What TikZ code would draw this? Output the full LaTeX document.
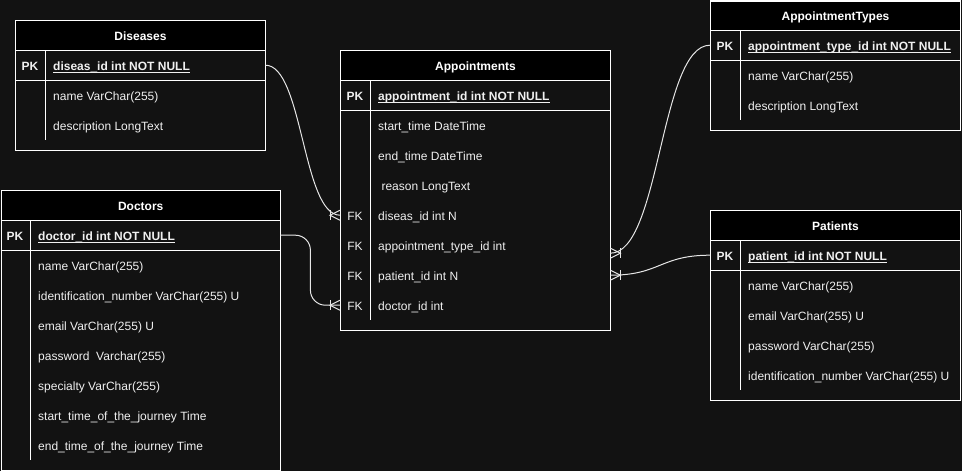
\documentclass[tikz,border=0pt]{standalone}
\usepackage{fontspec}
\setmainfont{Liberation Sans}
\usetikzlibrary{calc}
\definecolor{bg}{HTML}{121212}
\definecolor{fg}{HTML}{F0F0F0}
\definecolor{cn}{HTML}{E6E6E6}
\newcommand{\uln}[1]{\setbox0=\hbox{#1}\rlap{\rule[-2pt]{\wd0}{0.9pt}}\box0}
\newcommand{\erfoot}[2]{%
  \draw[conn] ($(#1)+(#2*10,-5)$) -- ($(#1)+(#2*10,5)$);
  \draw[conn] ($(#1)+(0,-5)$) -- ($(#1)+(#2*10,0)$) -- ($(#1)+(0,5)$);
}
\begin{document}
\begin{tikzpicture}[x=1pt,y=-1pt,
  tbl/.style={draw=white, line width=1pt, fill=bg, anchor=north west, inner sep=0pt},
  hdr/.style={draw=white, line width=1pt, fill=black, anchor=north west, inner sep=0pt,
    minimum height=30pt, text height=10pt, text depth=0pt,
    font=\bfseries\fontsize{12}{14}\selectfont, text=white},
  row/.style={anchor=north west, inner sep=0pt, minimum height=30pt},
  pkl/.style={anchor=base, inner sep=0pt, font=\bfseries\fontsize{12}{14}\selectfont, text=fg},
  fkl/.style={anchor=base, inner sep=0pt, font=\fontsize{12}{14}\selectfont, text=fg},
  fld/.style={anchor=base west, inner sep=0pt, font=\fontsize{12}{14}\selectfont, text=fg},
  pkf/.style={anchor=base west, inner sep=0pt, font=\bfseries\fontsize{12}{14}\selectfont, text=fg},
  sep/.style={draw=white, line width=1pt},
  conn/.style={draw=cn, line width=1pt},
]
\useasboundingbox (0,0) rectangle (962,471);
\fill[bg] (0,0) rectangle (962,471);

% ---------------- Diseases
\node[tbl, minimum width=250pt, minimum height=130pt] (dis) at (15,20) {};
\node[hdr, minimum width=250pt] (dis-h) at (15,20) {Diseases};
\node[row, minimum width=250pt] (dis-pk) at (15,50) {};
\draw[sep] (dis-pk.south west) -- (dis-pk.south east);
\draw[sep] (45,50) -- (45,140);
\node[pkl] (dis-pkl) at (30,70.5) {PK};
\node[pkf] (dis-pkf) at (53,70.5) {\uln{diseas\_id int NOT NULL}};
\foreach \t [count=\i] in {name VarChar(255), description LongText}
  \node[fld] (dis-f\i) at (53,{70.5+30*\i}) {\t};

% ---------------- Doctors
\node[tbl, minimum width=279.5pt, minimum height=280pt] (doc) at (0.5,190) {};
\node[hdr, minimum width=279.5pt] (doc-h) at (0.5,190) {Doctors};
\node[row, minimum width=279.5pt] (doc-pk) at (0.5,220) {};
\draw[sep] (doc-pk.south west) -- (doc-pk.south east);
\draw[sep] (30,220) -- (30,460);
\node[pkl] (doc-pkl) at (15,240.5) {PK};
\node[pkf] (doc-pkf) at (38,240.5) {\uln{doctor\_id int NOT NULL}};
\foreach \t [count=\i] in {name VarChar(255), identification\_number VarChar(255) U,
  email VarChar(255) U, password\ \ Varchar(255), specialty VarChar(255),
  start\_time\_of\_the\_journey Time, end\_time\_of\_the\_journey Time}
  \node[fld] (doc-f\i) at (38,{240.5+30*\i}) {\t};

% ---------------- Appointments
\node[tbl, minimum width=270pt, minimum height=280pt] (ap) at (340,50) {};
\node[hdr, minimum width=270pt] (ap-h) at (340,50) {Appointments};
\node[row, minimum width=270pt] (ap-pk) at (340,80) {};
\draw[sep] (ap-pk.south west) -- (ap-pk.south east);
\draw[sep] (370,80) -- (370,320);
\node[pkl] (ap-pkl) at (355,100.5) {PK};
\node[pkf] (ap-pkf) at (378,100.5) {\uln{appointment\_id int NOT NULL}};
\foreach \t [count=\i] in {start\_time DateTime, end\_time DateTime, \ reason LongText,
  diseas\_id int N, appointment\_type\_id int, patient\_id int N, doctor\_id int}
  {\node[row, minimum width=270pt] (ap-r\i) at (340,{80+30*\i}) {};
   \node[fld] (ap-f\i) at (378,{100.5+30*\i}) {\t};}
\foreach \i in {4,...,7}
  \node[fkl] (ap-fk\i) at (355,{100.5+30*\i}) {FK};

% ---------------- AppointmentTypes
\node[tbl, minimum width=250pt, minimum height=129.5pt] (typ) at (710,0.5) {};
\node[hdr, minimum width=250pt, minimum height=29.5pt] (typ-h) at (710,0.5) {AppointmentTypes};
\node[row, minimum width=250pt] (typ-pk) at (710,30) {};
\draw[sep] (typ-pk.south west) -- (typ-pk.south east);
\draw[sep] (740,30) -- (740,120);
\node[pkl] (typ-pkl) at (725,50.5) {PK};
\node[pkf] (typ-pkf) at (748,50.5) {\uln{appointment\_type\_id int NOT NULL}};
\foreach \t [count=\i] in {name VarChar(255), description LongText}
  \node[fld] (typ-f\i) at (748,{50.5+30*\i}) {\t};

% ---------------- Patients
\node[tbl, minimum width=250pt, minimum height=190pt] (pat) at (710,210) {};
\node[hdr, minimum width=250pt] (pat-h) at (710,210) {Patients};
\node[row, minimum width=250pt] (pat-pk) at (710,240) {};
\draw[sep] (pat-pk.south west) -- (pat-pk.south east);
\draw[sep] (740,240) -- (740,390);
\node[pkl] (pat-pkl) at (725,260.5) {PK};
\node[pkf] (pat-pkf) at (748,260.5) {\uln{patient\_id int NOT NULL}};
\foreach \t [count=\i] in {name VarChar(255), email VarChar(255) U, password VarChar(255),
  identification\_number VarChar(255) U}
  \node[fld] (pat-f\i) at (748,{260.5+30*\i}) {\t};

% ---------------- Connectors
\coordinate (ap-typ-end) at ([yshift=-8pt]ap-r5.east);

\draw[conn] (dis-pk.east) .. controls +(37.5,0) and +(-37.5,0) .. (ap-r4.west);
\erfoot{ap-r4.west}{-1}

\draw[conn, rounded corners=15pt] (doc-pk.east) -- ++(30,0) |- (ap-r7.west);
\erfoot{ap-r7.west}{-1}

\draw[conn] (ap-typ-end) .. controls +(50,0) and +(-50,0) .. (typ-pk.west);
\erfoot{ap-typ-end}{1}

\draw[conn] (ap-r6.east) .. controls +(50,0) and +(-50,0) .. (pat-pk.west);
\erfoot{ap-r6.east}{1}
\end{tikzpicture}
\end{document}
